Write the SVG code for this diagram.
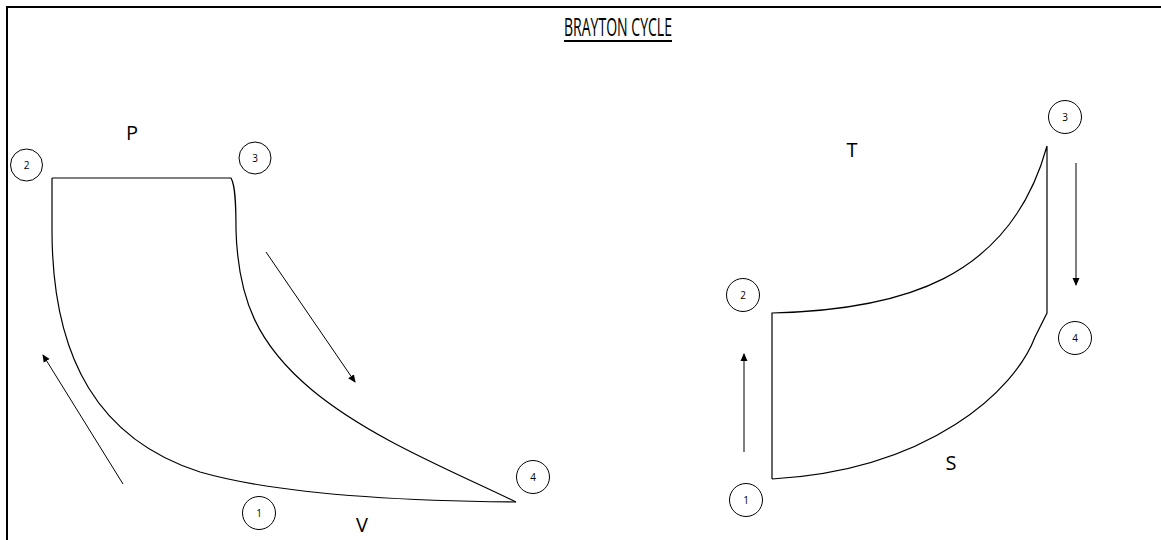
<svg xmlns="http://www.w3.org/2000/svg" width="1161" height="540" viewBox="0 0 1161 540">
<style>
.c{fill:#fff;stroke:#000;stroke-width:1}
.n{font-family:"Open Sans","Liberation Sans",sans-serif;font-size:10px;text-anchor:middle;fill:#000}
.l{font-family:"Open Sans","Liberation Sans",sans-serif;font-size:20px;text-anchor:middle;fill:#000}
.cv{fill:none;stroke:#000;stroke-width:1.2}
.ar{fill:none;stroke:#000;stroke-width:1;marker-end:url(#ah)}
</style>
<defs>
<marker id="ah" markerWidth="8" markerHeight="8" refX="7" refY="4" orient="auto" markerUnits="userSpaceOnUse">
<path d="M0,0.5 L8,4 L0,7.5 z" fill="#000"/>
</marker>
</defs>
<rect width="1161" height="540" fill="#fff"/>
<g id="frame">
<line x1="6" y1="7" x2="1161" y2="7" stroke="#000" stroke-width="2"/>
<line x1="7" y1="6" x2="7" y2="540" stroke="#000" stroke-width="2"/>
</g>
<g id="title">
<text x="618" y="36" font-family="Open Sans, Liberation Sans, sans-serif" font-size="26" text-anchor="middle" textLength="108" lengthAdjust="spacingAndGlyphs">BRAYTON CYCLE</text>
<line x1="564" y1="41" x2="672" y2="41" stroke="#000" stroke-width="2"/>
</g>
<g id="connectors">
<path class="cv" d="M52,178 H231 C235,185 236,200 236,230 C238,300 258,345 312,390 C370,438 450,470 516,502"/>
<path class="cv" d="M52,178 V230 C52,360 100,440 200,472 C280,495 400,501 516,502"/>
<line class="ar" x1="123" y1="484" x2="43" y2="355"/>
<line class="ar" x1="266" y1="252" x2="355" y2="382"/>
<path class="cv" d="M772,479 V313 C900,310 1010,280 1047,146 V313 L1035,337 C1015,390 930,470 772,479"/>
<line class="ar" x1="744" y1="452" x2="744" y2="354"/>
<line class="ar" x1="1076" y1="163" x2="1076" y2="285"/>
</g>
<g id="pv-labels">
<text class="l" x="132" y="140">P</text>
<text class="l" x="362" y="532">V</text>
</g>
<g id="pv-2"><circle class="c" cx="26.5" cy="165" r="16"/><text class="n" x="26.5" y="169">2</text></g>
<g id="pv-3"><circle class="c" cx="255" cy="158" r="16"/><text class="n" x="255" y="162">3</text></g>
<g id="pv-1"><circle class="c" cx="259" cy="513" r="16.5"/><text class="n" x="259" y="517">1</text></g>
<g id="pv-4"><circle class="c" cx="533" cy="477" r="16.5"/><text class="n" x="533" y="481">4</text></g>
<g id="ts-labels">
<text class="l" x="852" y="157">T</text>
<text class="l" x="951" y="470">S</text>
</g>
<g id="ts-3"><circle class="c" cx="1065" cy="117" r="16.5"/><text class="n" x="1065" y="121">3</text></g>
<g id="ts-2"><circle class="c" cx="743" cy="295" r="16.5"/><text class="n" x="743" y="299">2</text></g>
<g id="ts-4"><circle class="c" cx="1075" cy="338" r="16.5"/><text class="n" x="1075" y="342">4</text></g>
<g id="ts-1"><circle class="c" cx="746" cy="500" r="16.5"/><text class="n" x="746" y="504">1</text></g>
</svg>
